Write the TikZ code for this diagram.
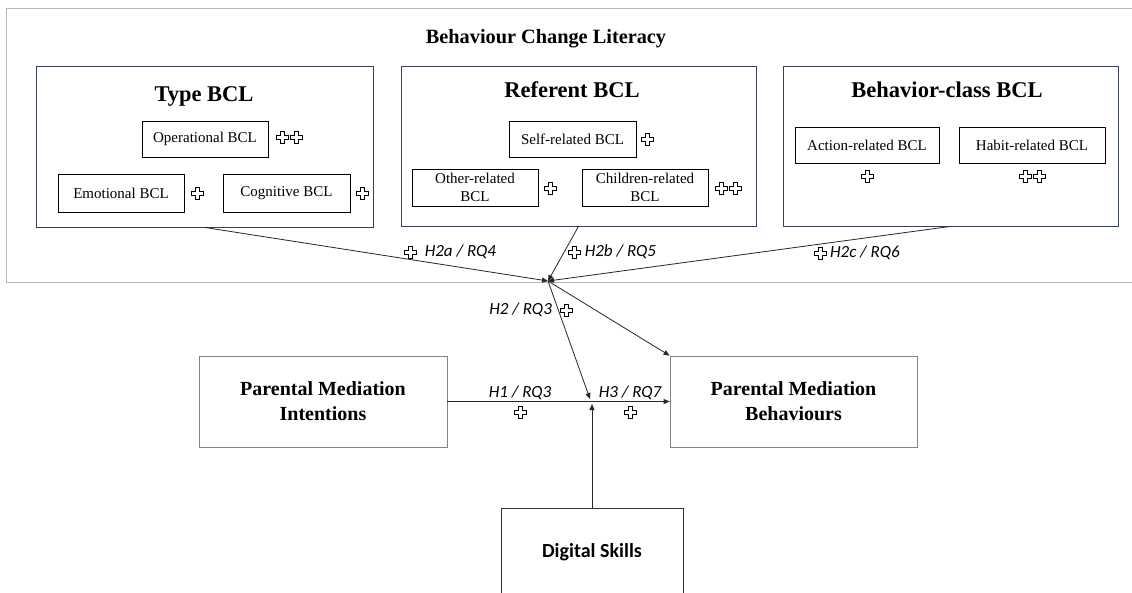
\documentclass[tikz,border=0pt]{standalone}
\usepackage{fontspec}
\setmainfont{Liberation Serif}
\newfontfamily\calib{Carlito}
\usetikzlibrary{arrows.meta}
\definecolor{grpcol}{RGB}{55,65,95}
\definecolor{outcol}{RGB}{185,185,185}
\definecolor{boxgray}{RGB}{130,130,130}
\newcommand\pl{\raisebox{-1.8pt}{\tikz[x=1pt,y=1pt]{\draw[line width=0.75pt,fill=white,line join=miter]
  (-2,-6) -- (2,-6) -- (2,-2) -- (6,-2) -- (6,2) -- (2,2) -- (2,6) -- (-2,6) -- (-2,2) -- (-6,2) -- (-6,-2) -- (-2,-2) -- cycle;}}}
\newcommand\pll{\pl\kern1.5pt\pl}
\tikzset{
  outerbox/.style={draw=outcol, line width=0.9pt},
  grp/.style={draw=grpcol, line width=0.8pt, inner sep=0pt},
  grptitle/.style={font=\bfseries\fontsize{22.5}{24}\selectfont, anchor=base, inner sep=0pt},
  sbox/.style={draw=black, line width=0.8pt, inner sep=0pt, align=center, font=\fontsize{15}{18}\selectfont},
  plus/.style={inner sep=0pt},
  lab/.style={font=\calib\itshape\fontsize{17}{18}\selectfont, inner sep=0pt},
  bigbox/.style={draw=boxgray, line width=0.8pt, inner sep=0pt, align=center, font=\bfseries\fontsize{20}{25}\selectfont},
  arr/.style={-{Triangle[length=6pt,width=5pt]}, line width=0.8pt, draw=black!85},
}
\begin{document}
\begin{tikzpicture}[x=1pt,y=-1pt]
\useasboundingbox (0,0) rectangle (1132,592);
\fill[white] (0,0) rectangle (1132,592);
% outer frame
\draw[outerbox] (6,8) rectangle (1145,282);
\node[font=\bfseries\fontsize{20.3}{22}\selectfont, anchor=base, inner sep=0pt] (bcl) at (546,43) {Behaviour Change Literacy};
% groups
\node[grp, minimum width=337pt, minimum height=161pt] (type) at (204.5,146.5) {};
\node[grp, minimum width=355pt, minimum height=160pt] (ref) at (578.5,146) {};
\node[grp, minimum width=335pt, minimum height=160pt] (beh) at (950.5,146) {};
\node[grptitle] (typet) at (204,101) {Type BCL};
\node[grptitle] (reft) at (572,97) {Referent BCL};
\node[grptitle] (beht) at (947,97) {Behavior-class BCL};
% type boxes
\node[sbox, minimum width=126pt, minimum height=36pt] (oper) at (205,139) {Operational BCL};
\node[sbox, minimum width=126pt, minimum height=38pt] (emo) at (121,193) {Emotional BCL};
\node[sbox, minimum width=127pt, minimum height=38pt] (cog) at (286.5,193) {Cognitive BCL};
\node[plus] (p1) at (289,137) {\pll};
\node[plus] (p2) at (197,193) {\pl};
\node[plus] (p3) at (362,193) {\pl};
% referent boxes
\node[sbox, minimum width=127pt, minimum height=36pt] (self) at (572.5,139) {Self-related BCL};
\node[sbox, minimum width=126pt, minimum height=37pt] (other) at (475,187.5) {Other-related\\BCL};
\node[sbox, minimum width=126pt, minimum height=37pt] (child) at (645,187.5) {Children-related\\BCL};
\node[plus] (p4) at (647,139) {\pl};
\node[plus] (p5) at (550,188) {\pl};
\node[plus] (p6) at (728,188) {\pll};
% behavior-class boxes
\node[sbox, minimum width=144pt, minimum height=36pt] (act) at (867,145) {Action-related BCL};
\node[sbox, minimum width=146pt, minimum height=36pt] (hab) at (1032,145) {Habit-related BCL};
\node[plus] (p7) at (867,176) {\pl};
\node[plus] (p8) at (1032,176) {\pll};
% lower boxes
\node[bigbox, minimum width=248pt, minimum height=91pt] (pmi) at (323,401.5) {Parental Mediation\\Intentions};
\node[bigbox, minimum width=247pt, minimum height=91pt] (pmb) at (793.5,401.5) {Parental Mediation\\Behaviours};
\node[draw=black!80, line width=0.8pt, inner sep=0pt, minimum width=182pt, minimum height=92pt] (ds) at (592,554) {};
\node[font=\calib\bfseries\fontsize{20}{22}\selectfont, inner sep=0pt] (dst) at (592,552) {Digital Skills};
% connectors
\coordinate (c) at (548,281);
\coordinate (m) at (590,399);
\coordinate (m2) at (592,404);
\draw[arr] (type.south) -- (c);
\draw[arr] (ref.south) -- (c);
\draw[arr] (beh.south) -- (c);
\draw[arr] (c) -- (m);
\draw[arr] (c) -- (pmb.north west);
\draw[arr] (pmi.east) -- (pmb.west);
\draw[arr] (ds.north) -- (m2);
% labels
\node[lab] (l2a) at (450,252) {\pl\hspace{8pt}H2a / RQ4};
\node[lab] (l2b) at (612,252) {\pl\hspace{4pt}H2b / RQ5};
\node[lab] (l2c) at (857,253) {\pl\hspace{3pt}H2c / RQ6};
\node[lab] (l2) at (531,310) {H2 / RQ3\hspace{8pt}\pl};
\node[lab] (l1) at (520,393) {H1 / RQ3};
\node[lab] (l3) at (630,393) {H3 / RQ7};
\node[plus] (p9) at (520,412) {\pl};
\node[plus] (p10) at (630,412) {\pl};
\end{tikzpicture}
\end{document}
